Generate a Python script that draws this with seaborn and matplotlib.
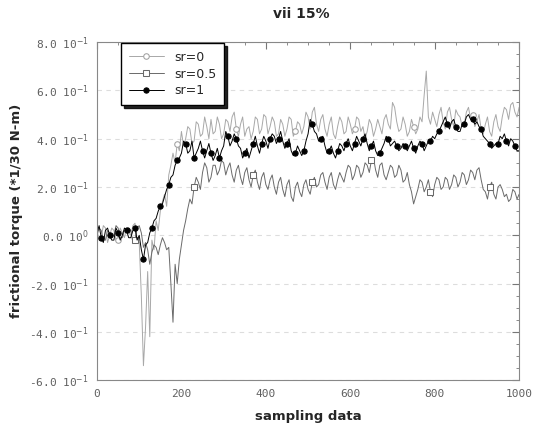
import numpy as np
import pandas as pd
import matplotlib
matplotlib.use("Agg")
import matplotlib.pyplot as plt
from matplotlib.ticker import MultipleLocator
import seaborn as sns

# ---- data (one value every 5 samples) ----
samples = list(range(0, 1001, 5))

sr0 = [0.2, -0.2, -0.1, 0.4, 0.3, -0.3, 0.0, 0.3, 0.2, -0.2, -0.2, 0.3, 0.1, -0.1, 0.3, 0.1, 0.0, 0.4, 0.5, -0.2, -0.3,
       -2.5, -5.4, -3.8, -1.5, -4.2, -0.2, -0.6, 0.6, 0.2, 1.0, 1.4, 1.7, 1.2, 2.5, 2.9, 3.4, 3.0, 3.8, 3.5, 4.3,
       3.7, 4.0, 4.5, 4.4, 3.8, 3.9, 4.7, 4.6, 4.1, 4.2, 4.9, 4.5, 4.0, 4.8, 4.2, 4.3, 4.9, 4.6, 4.0, 4.2,
       4.8, 4.7, 4.3, 4.9, 5.1, 4.4, 4.1, 4.6, 4.9, 4.1, 4.4, 4.5, 4.0, 4.3, 4.9, 4.8, 4.2, 4.4, 5.0, 4.9,
       4.2, 4.5, 4.9, 4.7, 4.1, 4.2, 4.8, 4.6, 4.1, 4.4, 4.9, 4.8, 4.1, 4.3, 4.7, 4.6, 4.2, 4.5, 5.1, 4.9,
       4.4, 5.1, 5.3, 4.6, 4.3, 4.8, 5.0, 4.4, 4.1, 4.6, 4.9, 4.2, 4.0, 4.5, 4.9, 4.7, 4.2, 4.3, 4.9, 4.6,
       4.2, 4.4, 4.9, 4.8, 4.3, 4.5, 4.0, 4.3, 4.8, 4.6, 4.1, 4.4, 4.8, 4.5, 4.2, 4.8, 5.0, 4.6, 4.4, 5.5,
       5.3, 4.7, 4.3, 4.4, 4.9, 4.6, 4.1, 4.3, 4.8, 4.5, 4.2, 4.4, 4.9, 4.7, 5.8, 6.8, 4.9, 4.6, 5.1, 4.8,
       4.5, 5.0, 5.3, 4.7, 4.4, 5.1, 5.3, 4.8, 4.5, 5.2, 5.0, 4.9, 4.5, 4.6, 5.1, 5.3, 4.8, 5.0, 4.5, 4.7,
       5.0, 4.4, 4.2, 4.6, 4.9, 4.3, 4.1, 4.7, 5.0, 4.5, 4.3, 4.9, 5.3, 5.2, 4.8, 5.4, 5.5, 5.1, 4.9, 5.3]

sr05 = [0.0, 0.3, 0.2, -0.2, -0.2, 0.2, 0.1, -0.1, 0.0, 0.4, 0.3, -0.1, -0.1, 0.2, 0.1, 0.3, 0.2, -0.3, -0.2, 0.3, 0.4,
        0.1, -0.5, -0.3, -0.6, -1.2, -0.7, -0.4, -0.5, -0.8, -0.4, -0.1, -0.3, -0.6, -0.5, -2.0, -3.6, -1.2, -2.0, -1.0, -0.4,
        0.2, 0.6, 1.1, 1.5, 1.3, 2.0, 2.4, 2.2, 1.9, 2.6, 3.0, 2.8, 2.2, 2.4, 2.9, 2.9, 2.5, 2.7, 3.1, 3.0,
        2.5, 2.8, 3.0, 2.5, 2.2, 2.7, 2.9, 2.4, 2.1, 2.6, 2.8, 2.3, 2.0, 2.5, 2.7, 2.2, 1.9, 2.4, 2.6, 2.1,
        1.9, 2.3, 2.5, 2.0, 1.7, 2.2, 2.4, 1.9, 1.6, 2.1, 2.3, 1.6, 1.4, 2.0, 2.2, 1.8, 1.6, 2.1, 2.3, 1.9,
        1.7, 2.2, 2.4, 2.0, 2.1, 2.5, 2.6, 2.2, 1.9, 2.4, 2.6, 2.1, 1.9, 2.3, 2.6, 2.4, 2.2, 2.6, 2.9, 2.8,
        2.3, 2.5, 2.9, 2.8, 2.4, 2.6, 3.0, 2.9, 2.6, 3.1, 3.2, 2.7, 2.4, 2.9, 3.0, 2.5, 2.3, 2.6, 2.9, 2.8,
        2.4, 2.5, 2.9, 2.7, 2.2, 2.3, 2.6, 2.1, 1.8, 1.3, 1.6, 1.9, 2.3, 2.2, 1.8, 2.0, 2.3, 1.8, 1.6, 2.1,
        2.4, 2.3, 1.9, 2.0, 2.4, 2.3, 1.9, 2.1, 2.5, 2.4, 2.0, 2.2, 2.6, 2.5, 2.1, 2.3, 2.7, 2.6, 2.3, 2.7,
        2.8, 2.3, 1.9, 1.8, 1.5, 2.0, 2.2, 1.7, 1.5, 2.0, 2.1, 1.9, 1.6, 1.7, 1.4, 1.5, 1.9, 1.8, 1.5, 1.7]

sr1 = [0.1, 0.4, -0.1, -0.3, 0.2, 0.3, 0.0, -0.2, -0.2, 0.3, 0.1, -0.2, 0.0, 0.3, 0.2, -0.1, -0.1, 0.2, 0.3, -0.2, 0.0,
       -0.6, -1.0, -0.4, -0.3, 0.1, 0.3, 0.6, 0.7, 1.0, 1.2, 1.3, 1.6, 1.9, 2.1, 2.4, 2.5, 2.9, 3.1, 3.2, 3.4,
       3.9, 3.8, 3.4, 3.5, 3.9, 3.2, 3.4, 3.6, 3.9, 3.5, 3.2, 3.5, 3.8, 3.4, 3.1, 3.3, 3.6, 3.2, 3.5, 3.7,
       4.3, 4.1, 3.7, 3.9, 4.2, 4.0, 3.7, 3.6, 3.2, 3.4, 3.6, 3.2, 3.5, 3.8, 4.1, 3.7, 3.4, 3.8, 4.1, 3.9,
       3.6, 4.0, 4.2, 4.1, 3.8, 4.0, 4.3, 3.9, 3.6, 3.8, 4.0, 3.5, 3.3, 3.4, 3.7, 3.5, 3.3, 3.5, 3.9, 4.2,
       4.8, 4.6, 4.3, 4.2, 3.9, 4.0, 4.1, 3.7, 3.4, 3.5, 3.7, 3.4, 3.2, 3.5, 3.8, 3.7, 3.5, 3.8, 4.0, 3.7,
       3.5, 3.8, 4.1, 3.9, 3.7, 4.0, 4.2, 3.8, 3.5, 3.7, 3.9, 3.5, 3.3, 3.4, 3.6, 3.8, 4.1, 4.0, 3.7, 3.8,
       3.9, 3.7, 3.5, 3.6, 3.8, 3.7, 3.5, 3.7, 3.9, 3.6, 3.4, 3.7, 3.9, 3.8, 3.5, 3.7, 3.9, 3.9, 4.1, 4.0,
       4.2, 4.3, 4.5, 4.7, 4.9, 4.6, 4.4, 4.7, 4.8, 4.5, 4.3, 4.3, 4.6, 4.6, 4.9, 5.0, 4.8, 4.8, 4.6, 4.7,
       4.5, 4.4, 4.1, 4.0, 3.9, 3.8, 3.6, 3.7, 3.8, 3.8, 4.1, 4.0, 4.2, 3.9, 3.7, 4.0, 3.9, 3.7, 3.5, 3.5]

assert len(sr0) == len(samples) and len(sr05) == len(samples) and len(sr1) == len(samples)

series_names = ["sr=0", "sr=0.5", "sr=1"]
y_ticks = [8, 6, 4, 2, 0, -2, -4, -6]
y_tick_labels = ["8.0 10$^{-1}$", "6.0 10$^{-1}$", "4.0 10$^{-1}$", "2.0 10$^{-1}$",
                 "0.0 10$^{0}$", "-2.0 10$^{-1}$", "-4.0 10$^{-1}$", "-6.0 10$^{-1}$"]
x_ticks = [0, 200, 400, 600, 800, 1000]

df = pd.DataFrame({
    "sample": samples * 3,
    "torque": sr0 + sr05 + sr1,
    "series": [series_names[0]] * len(samples) + [series_names[1]] * len(samples)
              + [series_names[2]] * len(samples),
})

sns.set_style("white")
plt.rcParams["font.family"] = ["DejaVu Sans"]
plt.rcParams["mathtext.fontset"] = "dejavusans"

fig = plt.figure(figsize=(5.33, 4.34), dpi=100)
ax = fig.add_axes([0.182, 0.124, 0.792, 0.779])

styles = {
    "sr=0": dict(color="#a8a8a8", marker="o", markersize=4, markerfacecolor="white",
                 markeredgecolor="#a0a0a0", markevery=(10, 28), lw=0.7),
    "sr=0.5": dict(color="#6a6a6a", marker="s", markersize=4, markerfacecolor="white",
                   markeredgecolor="#6a6a6a", markevery=(18, 28), lw=0.7),
    "sr=1": dict(color="black", marker="o", markersize=3.8, markerfacecolor="black",
                 markeredgecolor="black", markevery=(2, 4), lw=0.7),
}

handles = []
for name in series_names:
    sub = df[df["series"] == name]
    sns.lineplot(data=sub, x="sample", y="torque", ax=ax, estimator=None, sort=False,
                 legend=False, **styles[name])
    handles.append(ax.lines[-1])

ax.set_xlim(0, 1000)
ax.set_ylim(-6, 8)
ax.set_yticks(y_ticks)
ax.set_yticklabels(y_tick_labels, family="DejaVu Sans Mono", color="#606060", fontsize=8)
ax.set_xticks(x_ticks)
ax.set_xticklabels([str(v) for v in x_ticks], family="DejaVu Sans Mono", color="#606060",
                   fontsize=8)
ax.yaxis.set_minor_locator(MultipleLocator(0.5))
ax.xaxis.set_minor_locator(MultipleLocator(50))
ax.tick_params(which="both", direction="in", top=True, right=True, color="#777777")
ax.tick_params(which="major", length=5, pad=6)
ax.tick_params(which="minor", length=2.5)
ax.grid(axis="y", which="major", color="#dddddd", linestyle=(0, (4, 4)), lw=0.8)
for sp in ax.spines.values():
    sp.set_color("#888888")
    sp.set_linewidth(0.8)

ax.set_xlabel("sampling data", fontweight="bold", fontsize=9.5, labelpad=8)
ax.set_ylabel("frictional torque (*1/30 N-m)", fontweight="bold", fontsize=9.5, labelpad=4)
fig.suptitle("vii 15%", fontweight="bold", fontsize=10, x=0.565, y=0.985)

leg = ax.legend(handles, series_names, loc="upper left", bbox_to_anchor=(0.055, 1.0),
                frameon=True, fancybox=False, shadow={"color": "black", "alpha": 0.85},
                fontsize=9, handlelength=2.8, numpoints=1, borderpad=0.6,
                labelspacing=0.3, borderaxespad=0.1)
leg.get_frame().set_edgecolor("black")
leg.get_frame().set_linewidth(1.0)

fig.savefig("out.png", dpi=100)
